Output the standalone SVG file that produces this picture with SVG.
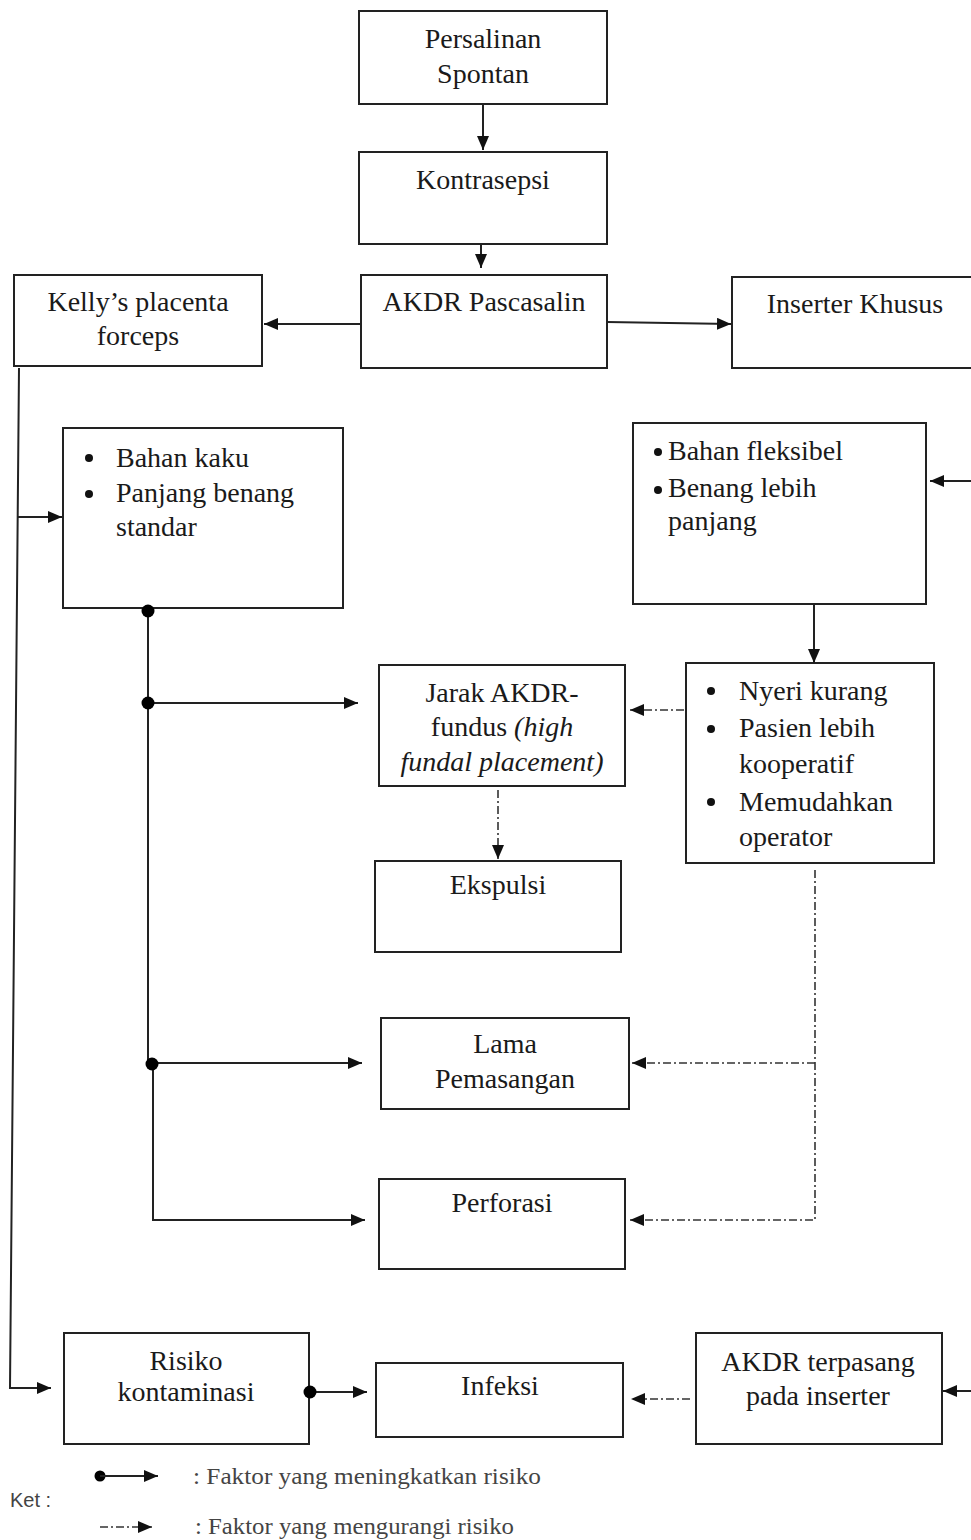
<svg xmlns="http://www.w3.org/2000/svg" width="971" height="1540" viewBox="0 0 971 1540">
<style>
  .box { fill: #fff; stroke: #222; stroke-width: 2; }
  .t { font-family: "Liberation Serif", "Times New Roman", serif; font-size: 28px; fill: #1a1a1a; }
  .c { text-anchor: middle; }
  .ln { fill: none; stroke: #222; stroke-width: 2; }
  .dl { fill: none; stroke: #333; stroke-width: 1.6; stroke-dasharray: 8 3 2 3; }
  .dot { fill: #000; }
  .bul { fill: #111; }
  .leg { font-family: "Liberation Serif", "Times New Roman", serif; font-size: 23px; fill: #444; }
  .ket { font-family: "Liberation Sans", Arial, sans-serif; font-size: 20px; fill: #444; }
</style>
<defs>
  <marker id="ah" markerUnits="userSpaceOnUse" markerWidth="15" markerHeight="13" refX="14" refY="6" orient="auto">
    <path d="M0,0 L14,6 L0,12 z" fill="#111"/>
  </marker>
</defs>

<g id="n-persalinan">
  <rect class="box" x="359" y="11" width="248" height="93"/>
  <text class="t c" x="483" y="48">Persalinan</text>
  <text class="t c" x="483" y="83">Spontan</text>
</g>
<g id="n-kontrasepsi">
  <rect class="box" x="359" y="152" width="248" height="92"/>
  <text class="t c" x="483" y="189">Kontrasepsi</text>
</g>
<g id="n-akdr-pascasalin">
  <rect class="box" x="361" y="275" width="246" height="93"/>
  <text class="t c" x="484" y="311">AKDR Pascasalin</text>
</g>
<g id="n-kelly">
  <rect class="box" x="14" y="275" width="248" height="91"/>
  <text class="t c" x="138" y="311">Kelly’s placenta</text>
  <text class="t c" x="138" y="345">forceps</text>
</g>
<g id="n-inserter">
  <rect class="box" x="732" y="277" width="250" height="91"/>
  <text class="t c" x="855" y="313">Inserter Khusus</text>
</g>
<g id="n-bahan-kaku">
  <rect class="box" x="63" y="428" width="280" height="180"/>
  <circle class="bul" cx="89" cy="458" r="4"/>
  <circle class="bul" cx="89" cy="494" r="4"/>
  <text class="t" x="116" y="467">Bahan kaku</text>
  <text class="t" x="116" y="502">Panjang benang</text>
  <text class="t" x="116" y="536">standar</text>
</g>
<g id="n-bahan-fleksibel">
  <rect class="box" x="633" y="423" width="293" height="181"/>
  <circle class="bul" cx="658" cy="452" r="4"/>
  <circle class="bul" cx="658" cy="490" r="4"/>
  <text class="t" x="668" y="460">Bahan fleksibel</text>
  <text class="t" x="668" y="497">Benang lebih</text>
  <text class="t" x="668" y="530">panjang</text>
</g>
<g id="n-jarak">
  <rect class="box" x="379" y="665" width="246" height="121"/>
  <text class="t c" x="502" y="702">Jarak AKDR-</text>
  <text class="t c" x="502" y="736">fundus <tspan font-style="italic">(high</tspan></text>
  <text class="t c" x="502" y="771" font-style="italic">fundal placement)</text>
</g>
<g id="n-nyeri">
  <rect class="box" x="686" y="663" width="248" height="200"/>
  <circle class="bul" cx="711" cy="691" r="4"/>
  <circle class="bul" cx="711" cy="729" r="4"/>
  <circle class="bul" cx="711" cy="802" r="4"/>
  <text class="t" x="739" y="700">Nyeri kurang</text>
  <text class="t" x="739" y="737">Pasien lebih</text>
  <text class="t" x="739" y="773">kooperatif</text>
  <text class="t" x="739" y="811">Memudahkan</text>
  <text class="t" x="739" y="846">operator</text>
</g>
<g id="n-ekspulsi">
  <rect class="box" x="375" y="861" width="246" height="91"/>
  <text class="t c" x="498" y="894">Ekspulsi</text>
</g>
<g id="n-lama">
  <rect class="box" x="381" y="1018" width="248" height="91"/>
  <text class="t c" x="505" y="1053">Lama</text>
  <text class="t c" x="505" y="1088">Pemasangan</text>
</g>
<g id="n-perforasi">
  <rect class="box" x="379" y="1179" width="246" height="90"/>
  <text class="t c" x="502" y="1212">Perforasi</text>
</g>
<g id="n-risiko">
  <rect class="box" x="64" y="1333" width="245" height="111"/>
  <text class="t c" x="186" y="1370">Risiko</text>
  <text class="t c" x="186" y="1401">kontaminasi</text>
</g>
<g id="n-infeksi">
  <rect class="box" x="376" y="1363" width="247" height="74"/>
  <text class="t c" x="500" y="1395">Infeksi</text>
</g>
<g id="n-akdr-terpasang">
  <rect class="box" x="696" y="1333" width="246" height="111"/>
  <text class="t c" x="818" y="1371">AKDR terpasang</text>
  <text class="t c" x="818" y="1405">pada inserter</text>
</g>

<g id="connectors">
  <line class="ln" x1="483" y1="104" x2="483" y2="150" marker-end="url(#ah)"/>
  <line class="ln" x1="481" y1="244" x2="481" y2="268" marker-end="url(#ah)"/>
  <line class="ln" x1="361" y1="324" x2="264" y2="324" marker-end="url(#ah)"/>
  <line class="ln" x1="607" y1="322" x2="731" y2="324" marker-end="url(#ah)"/>
  <line class="ln" x1="971" y1="481" x2="930" y2="481" marker-end="url(#ah)"/>
  <line class="ln" x1="814" y1="604" x2="814" y2="663" marker-end="url(#ah)"/>
  <polyline class="ln" points="19,368 10,1388 51,1388" marker-end="url(#ah)"/>
  <line class="ln" x1="17" y1="517" x2="62" y2="517" marker-end="url(#ah)"/>
  <polyline class="ln" points="148,611 148,1063"/>
  <line class="ln" x1="148" y1="703" x2="358" y2="703" marker-end="url(#ah)"/>
  <line class="ln" x1="152" y1="1063" x2="362" y2="1063" marker-end="url(#ah)"/>
  <polyline class="ln" points="153,1063 153,1220 365,1220" marker-end="url(#ah)"/>
  <line class="ln" x1="310" y1="1392" x2="367" y2="1392" marker-end="url(#ah)"/>
  <line class="ln" x1="971" y1="1391" x2="943" y2="1391" marker-end="url(#ah)"/>
  <circle class="dot" cx="148" cy="611" r="6.5"/>
  <circle class="dot" cx="148" cy="703" r="6.5"/>
  <circle class="dot" cx="152" cy="1064" r="6.5"/>
  <circle class="dot" cx="310" cy="1392" r="6.5"/>
  <line class="dl" x1="684" y1="710" x2="630" y2="710" marker-end="url(#ah)"/>
  <line class="dl" x1="498" y1="790" x2="498" y2="859" marker-end="url(#ah)"/>
  <polyline class="dl" points="815,870 815,1220 630,1220" marker-end="url(#ah)"/>
  <line class="dl" x1="815" y1="1063" x2="632" y2="1063" marker-end="url(#ah)"/>
  <line class="dl" x1="690" y1="1399" x2="631" y2="1399" marker-end="url(#ah)"/>
</g>

<g id="legend">
  <text class="ket" x="10" y="1507">Ket :</text>
  <circle class="dot" cx="100" cy="1476" r="5.5"/>
  <line class="ln" x1="100" y1="1476" x2="158" y2="1476" marker-end="url(#ah)"/>
  <text class="leg" x="193" y="1484" textLength="348" lengthAdjust="spacingAndGlyphs">:  Faktor yang meningkatkan risiko</text>
  <line class="dl" x1="100" y1="1527" x2="152" y2="1527" stroke-dasharray="3 2" marker-end="url(#ah)"/>
  <text class="leg" x="195" y="1534" textLength="319" lengthAdjust="spacingAndGlyphs">: Faktor yang mengurangi risiko</text>
</g>
</svg>
